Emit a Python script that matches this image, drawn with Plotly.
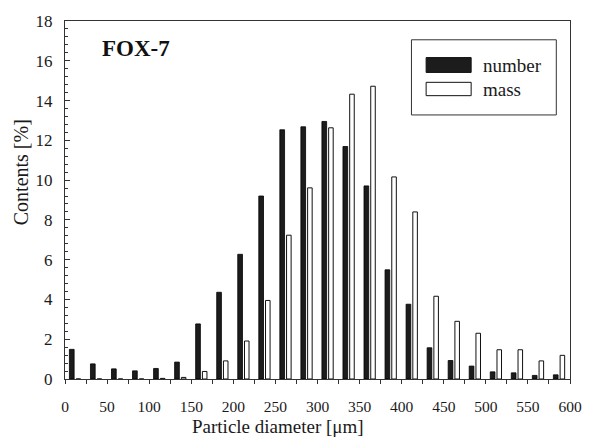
import plotly.graph_objects as go

bin_centers = [12.5 + 25 * i for i in range(24)]
number_pct = [1.49, 0.76, 0.51, 0.41, 0.53, 0.85, 2.77, 4.36, 6.27, 9.2, 12.53, 12.68,
              12.95, 11.69, 9.71, 5.49, 3.76, 1.57, 0.93, 0.65, 0.36, 0.31, 0.18, 0.21]
mass_pct = [0.0, 0.0, 0.0, 0.0, 0.03, 0.08, 0.38, 0.91, 1.91, 3.95, 7.23, 9.61,
            12.63, 14.32, 14.72, 10.16, 8.40, 4.16, 2.90, 2.30, 1.47, 1.47, 0.91, 1.19]
x_ticks = list(range(0, 601, 50))
y_ticks = list(range(0, 19, 2))

FONT = "Liberation Serif, Times New Roman, Times, serif"

fig = go.Figure()
fig.add_trace(go.Bar(x=bin_centers, y=number_pct, name="number", offset=-7.25, width=5.6,
                     marker=dict(color="#1c1c1c", line=dict(color="#000000", width=0.8))))
fig.add_trace(go.Bar(x=bin_centers, y=mass_pct, name="mass", offset=0.75, width=5.4,
                     marker=dict(color="#ffffff", line=dict(color="#111111", width=1))))

W, H = 594, 448
L, R, T, B = 65, 13, 17, 69
pw, ph = W - L - R, H - T - B

def px(xp):
    return (xp - L) / pw

def py(yp):
    return 1 - (yp - T) / ph

fig.update_layout(
    width=W, height=H, barmode="overlay", showlegend=False,
    margin=dict(l=L, r=R, t=T, b=B),
    plot_bgcolor="white", paper_bgcolor="white",
    font=dict(family=FONT, color="#1a1a1a"),
    xaxis=dict(range=[0, 600], tickvals=x_ticks, ticks="outside", ticklen=4, tickwidth=1,
               tickcolor="#333", showline=True, linecolor="#333", linewidth=1, mirror=True,
               showgrid=False, zeroline=False, tickfont=dict(size=15.5, family=FONT, color="#1a1a1a"),
               minor=dict(dtick=25, ticks="outside", ticklen=4, tickcolor="#333"),
               ticklabelstandoff=9),
    yaxis=dict(range=[0, 18], tickvals=y_ticks, ticks="inside", ticklen=5, tickwidth=1,
               tickcolor="#333", showline=True, linecolor="#333", linewidth=1, mirror=True,
               showgrid=False, zeroline=False, tickfont=dict(size=17, family=FONT, color="#1a1a1a"),
               minor=dict(dtick=0.4, ticks="inside", ticklen=3, tickcolor="#333"),
               ticklabelstandoff=8),
)

# axis titles
fig.add_annotation(text="Particle diameter [μm]", xref="paper", yref="paper",
                   x=px(283), y=py(427), showarrow=False, font=dict(size=19, family=FONT),
                   xanchor="center", yanchor="middle")
fig.add_annotation(text="Contents [%]", xref="paper", yref="paper",
                   x=px(20), y=py(170), showarrow=False, textangle=-90,
                   font=dict(size=20, family=FONT), xanchor="center", yanchor="middle")
# panel label
fig.add_annotation(text="<b>FOX-7</b>", xref="paper", yref="paper",
                   x=px(101), y=py(45), showarrow=False, font=dict(size=23, family=FONT, color="#111"),
                   xanchor="left", yanchor="middle")

# custom legend box
fig.add_shape(type="rect", xref="paper", yref="paper", x0=px(419), x1=px(567), y0=py(36), y1=py(112),
              line=dict(color="#333", width=1), fillcolor="white")
fig.add_shape(type="rect", xref="paper", yref="paper", x0=px(434), x1=px(480), y0=py(54), y1=py(69),
              line=dict(color="#111", width=1), fillcolor="#1c1c1c")
fig.add_shape(type="rect", xref="paper", yref="paper", x0=px(434), x1=px(480), y0=py(79), y1=py(92.5),
              line=dict(color="#111", width=1), fillcolor="white")
fig.add_annotation(text="number", xref="paper", yref="paper", x=px(490), y=py(62), showarrow=False,
                   font=dict(size=19, family=FONT), xanchor="left", yanchor="middle")
fig.add_annotation(text="mass", xref="paper", yref="paper", x=px(490), y=py(86), showarrow=False,
                   font=dict(size=19, family=FONT), xanchor="left", yanchor="middle")

fig.write_html("out.html")
